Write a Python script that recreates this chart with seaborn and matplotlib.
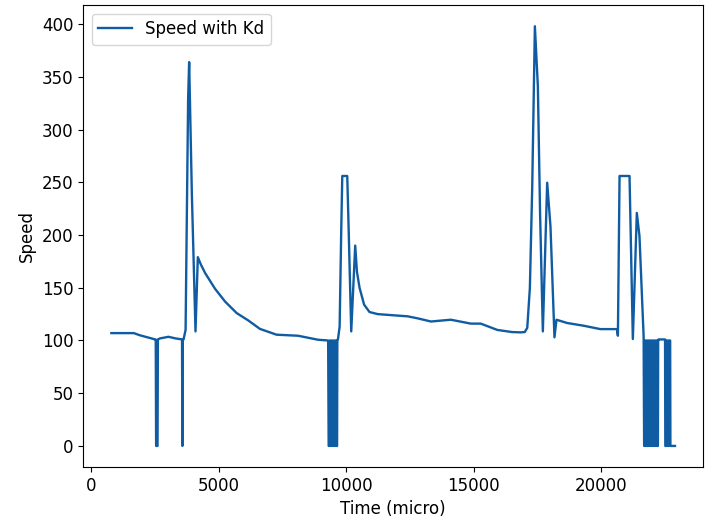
import pandas as pd
import numpy as np
import seaborn as sns
import matplotlib.pyplot as plt

# readings taken off the motor log (time in micro-seconds)
time_us = [790, 1670, 1900, 2200, 2510, 2530, 2545, 2600, 2615, 2700, 3030, 3300, 3540,
           3560, 3575, 3590, 3620, 3700, 3800, 3840, 3945, 4089, 4180, 4300, 4465, 4856,
           5246, 5703, 6159, 6615, 7266, 8112, 8893, 9290,
           9310, 9350, 9360, 9400, 9410, 9450, 9460, 9500, 9510, 9550, 9560, 9600, 9610, 9640, 9650,
           9674, 9740, 9800, 9844, 10039, 10100, 10195, 10351, 10420, 10521, 10700, 10911,
           11237, 11800, 12409, 12800, 13320, 14101, 14883, 15273, 15925, 16500, 16836,
           17000, 17097, 17200, 17292, 17396, 17513, 17600, 17708, 17878, 18008, 18164,
           18242, 18659, 19310, 19961, 20612, 20651, 20716, 21107, 21237, 21393, 21497, 21660,
           21680, 21720, 21730, 21770, 21780, 21820, 21830, 21870, 21880, 21920, 21930, 21970,
           21980, 22020, 22030, 22070, 22080, 22120, 22130, 22170, 22180, 22220, 22230, 22240,
           22500, 22510, 22550, 22560, 22600, 22610, 22650, 22660, 22700, 22710, 22890]
speed = [107, 107, 105, 103, 101, 101, 0, 0, 101, 102, 103.5, 102, 101,
         101, 0, 101, 101, 110, 330, 364, 240, 108.6, 179, 172, 164, 149,
         137, 126, 119, 111, 105.5, 104.5, 100.7, 100,
         0, 0, 100, 100, 0, 0, 100, 100, 0, 0, 100, 100, 0, 0, 100,
         101, 113, 200, 256, 256, 200, 108.6, 190, 165, 150, 134, 127,
         125, 124, 122.9, 121, 118, 119.7, 116, 116, 110, 108, 107.7,
         108, 112, 150, 246, 398, 341, 220, 108.6, 249.6, 208, 103,
         119.7, 116.6, 114, 110.8, 110.8, 104.5, 256, 256, 101.4, 221, 199, 103.9,
         0, 0, 100, 100, 0, 0, 100, 100, 0, 0, 100, 100,
         0, 0, 100, 100, 0, 0, 100, 100, 0, 0, 100, 101,
         101, 0, 0, 100, 100, 0, 0, 100, 100, 0, 0]

df = pd.DataFrame({'Time': time_us, 'Speed': speed})

plt.rcParams['font.size'] = 12
fig, ax = plt.subplots(figsize=(7.11, 5.27), dpi=100)
fig.subplots_adjust(left=0.117, right=0.989, top=0.990, bottom=0.114)
sns.lineplot(data=df, x='Time', y='Speed', estimator=None, sort=False,
             color='#105ca3', linewidth=1.7, label='Speed with Kd', ax=ax)
ax.set_xlabel('Time (micro)')
ax.set_ylabel('Speed')
ax.set_xticks([0, 5000, 10000, 15000, 20000])
ax.set_yticks(np.arange(0, 401, 50))
ax.legend(loc='upper left')
plt.savefig('out.png', dpi=100)
